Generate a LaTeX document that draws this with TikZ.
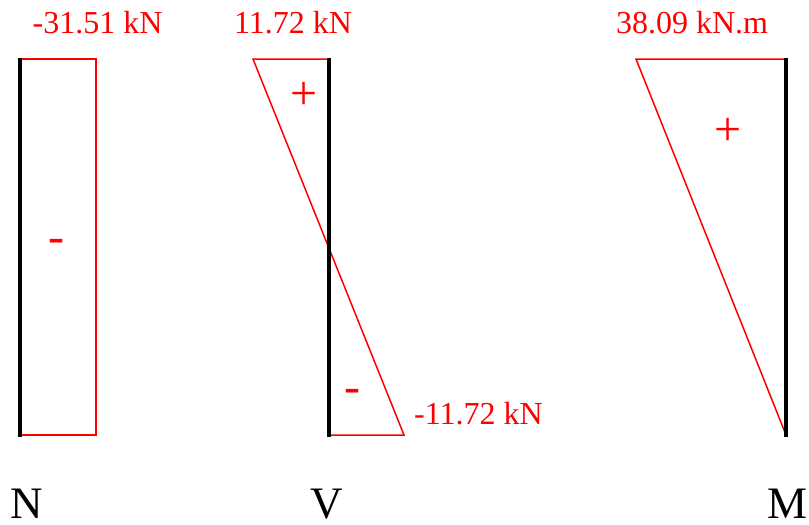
\documentclass[tikz,border=0pt]{standalone}
\usepackage{fontspec}
\setmainfont{Liberation Serif}
\begin{document}
\begin{tikzpicture}[x=1pt,y=-1pt,
  diag/.style={draw=red,line width=1.5pt,line join=miter},
  member/.style={draw=black,line width=4pt},
  val/.style={text=red,font=\fontsize{32}{32}\selectfont,inner sep=0pt,anchor=base},
  sign/.style={text=red,font=\fontsize{48}{48}\selectfont,inner sep=0pt,anchor=base},
  lbl/.style={text=black,font=\fontsize{45}{45}\selectfont,inner sep=0pt,text depth=0pt,anchor=base}]
\useasboundingbox (0,0) rectangle (809,525);
% N diagram
\coordinate (nt) at (20,59);
\coordinate (nb) at (20,435);
\coordinate (ntr) at (96,59);
\coordinate (nbr) at (96,435);
\draw[diag] (nt) -- (ntr) -- (nbr) -- (nb);
\draw[member] (20,57.5) coordinate (nt0) -- (20,437) coordinate (nb0);
\node[val] (nval) at (97.5,33) {-31.51 kN};
\node[sign] (nsign) at (56,252) {-};
\node[lbl] (nlbl) at (27,518) {N};
% V diagram
\coordinate (vt) at (329,59);
\coordinate (vb) at (329,435);
\coordinate (vtl) at (253,59);
\coordinate (vbr) at (404,435);
\draw[diag] (vt) -- (vtl) -- (vbr) -- (vb);
\draw[member] (329,57.5) coordinate (vt0) -- (329,437) coordinate (vb0);
\node[val] (vval1) at (293,33) {11.72 kN};
\node[val,anchor=base west] (vval2) at (414,424) {-11.72 kN};
\node[sign] (vsign1) at (304,109) {+};
\node[sign] (vsign2) at (352,402) {-};
\node[lbl] (vlbl) at (327,518) {V};
% M diagram
\coordinate (mt) at (786,59);
\coordinate (mb) at (786,435);
\coordinate (mtl) at (636,59);
\draw[diag] (mt) -- (mtl) -- (mb);
\draw[member] (786,57.5) coordinate (mt0) -- (786,437) coordinate (mb0);
\node[val] (mval) at (692,33) {38.09 kN.m};
\node[sign] (msign) at (728,145.5) {+};
\node[lbl] (mlbl) at (787,518) {M};
\end{tikzpicture}
\end{document}
